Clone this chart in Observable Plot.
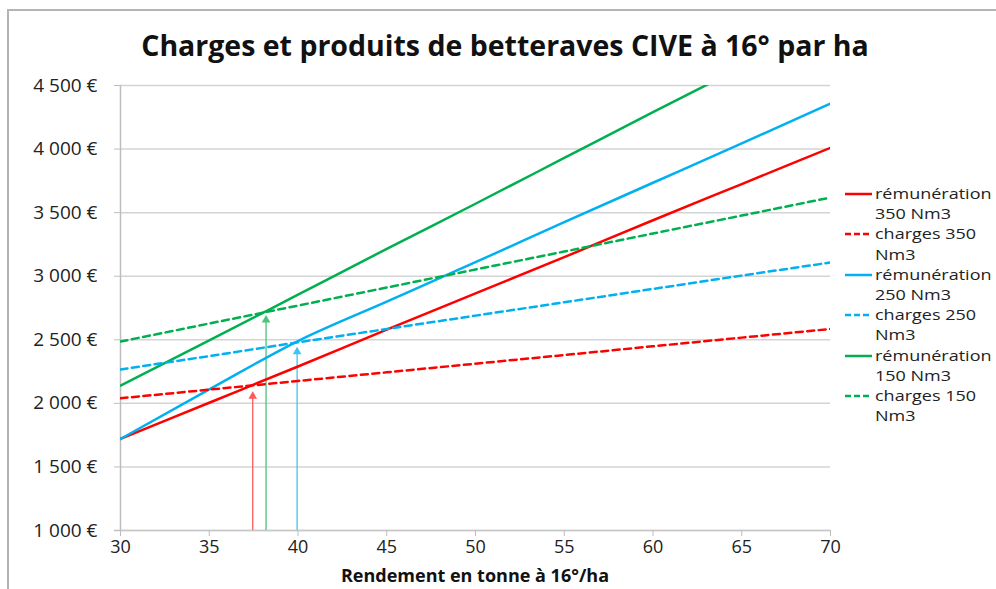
<!DOCTYPE html>
<html>
<head>
<meta charset="utf-8">
<script src="https://cdn.jsdelivr.net/npm/d3@7"></script>
<script src="https://cdn.jsdelivr.net/npm/@observablehq/plot@0.6"></script>
<style>
  html, body { margin: 0; padding: 0; background: #fff; }
  #wrap { position: relative; width: 996px; height: 589px; overflow: hidden; font-family: "Open Sans", sans-serif; color: #222; }
  #frame { position: absolute; left: 7px; top: 9px; width: 1000px; height: 600px; border-top: 2px solid #b4b4b4; border-left: 2px solid #b4b4b4; }
  #title { position: absolute; left: 0; top: 26px; width: 1010px; text-align: center; font-size: 28.5px; font-weight: 700; line-height: 38px; color: #111; }
  #xtitle { position: absolute; left: 120px; width: 710px; top: 563px; text-align: center; font-size: 18px; font-weight: 700; line-height: 25px; color: #111; }
  #legend { position: absolute; left: 845px; top: 183px; font-size: 15px; line-height: 20.2px; color: #222; }
  .item { display: flex; align-items: flex-start; }
  .item svg { flex: none; margin-top: 9px; }
  .item .lab { margin-left: 3px; white-space: nowrap; transform: scaleX(1.2); transform-origin: 0 50%; }
  #chart { position: absolute; left: 0; top: 0; }
</style>
</head>
<body>
<div id="wrap">
  <div id="frame"></div>
  <div id="chart"></div>
  <div id="title">Charges et produits de betteraves CIVE à 16° par ha</div>
  <div id="xtitle">Rendement en tonne à 16°/ha</div>
  <div id="legend"></div>
</div>
<script>
// ---- data ----
const rendement = [30, 35, 40, 45, 50, 55, 60, 65, 70];
const remuneration350 = [1720, 2005, 2290, 2580, 2865, 3150, 3440, 3725, 4010];
const charges350      = [2040, 2108, 2176, 2244, 2312, 2380, 2449, 2517, 2585];
const remuneration250 = [1720, 2110, 2490, 2800, 3110, 3425, 3735, 4045, 4358];
const charges250      = [2266, 2372, 2480, 2585, 2690, 2795, 2900, 3005, 3108];
const remuneration150 = [2140, 2495, 2855, 3215, 3570, 3930, 4290, 4645, 5005];
const charges150      = [2486, 2628, 2769, 2911, 3053, 3194, 3336, 3477, 3619];

const seriesNames = ["rémunération 350 Nm3", "charges 350 Nm3", "rémunération 250 Nm3", "charges 250 Nm3", "rémunération 150 Nm3", "charges 150 Nm3"];
const seriesLines = [["rémunération", "350 Nm3"], ["charges 350", "Nm3"], ["rémunération", "250 Nm3"], ["charges 250", "Nm3"], ["rémunération", "150 Nm3"], ["charges 150", "Nm3"]];
const seriesValues = [remuneration350, charges350, remuneration250, charges250, remuneration150, charges150];

// break-even arrows (rendement, value at tip)
const arrowRendement = [37.45, 38.2, 39.95];
const arrowValue = [2080, 2680, 2430];

const xTicks = [30, 35, 40, 45, 50, 55, 60, 65, 70];
const yTicks = [1000, 1500, 2000, 2500, 3000, 3500, 4000, 4500];

// ---- styles ----
const seriesColors = ["#ff0000", "#ff0000", "#00b0f0", "#00b0f0", "#00b050", "#00b050"];
const seriesDashed = [false, true, false, true, false, true];
const arrowColors = ["#ff5a5a", "#4cc27a", "#40c3f2"];

const rows = [];
seriesNames.forEach((name, i) => {
  rendement.forEach((x, j) => rows.push({x, y: seriesValues[i][j], s: name, dashed: seriesDashed[i]}));
});
const arrows = arrowRendement.map((x, i) => ({x, y: arrowValue[i], c: arrowColors[i]}));

const fmt = d => d3.format(",")(d).replace(/,/g, " ") + " €";

const chart = Plot.plot({
  width: 996,
  height: 589,
  marginLeft: 120,
  marginRight: 166,
  marginTop: 85,
  marginBottom: 59,
  style: {fontFamily: "Open Sans, sans-serif", fontSize: "17px", color: "#222", background: "transparent"},
  x: {domain: [30, 70]},
  y: {domain: [1000, 4500]},
  color: {domain: seriesNames, range: seriesColors},
  marks: [
    Plot.gridY(yTicks, {stroke: "#d4d4d4", strokeOpacity: 1, strokeWidth: 1.5}),
    Plot.ruleX([30], {stroke: "#bdbdbd", strokeWidth: 1.5}),
    Plot.ruleY([1000], {stroke: "#c8c8c8", strokeWidth: 1.5, insetLeft: -6}),
    Plot.axisY(yTicks, {tickFormat: fmt, tickSize: 6, tickPadding: 17, stroke: "#bdbdbd", fill: "#222", fontSize: 19, label: null}),
    Plot.axisX(xTicks, {tickSize: 6, tickPadding: 4, stroke: "#bdbdbd", fill: "#222", fontSize: 18, label: null}),
    Plot.ruleX(arrows, {x: "x", y1: 1000, y2: "y", stroke: "c", strokeWidth: 1.3}),
    Plot.dot(arrows, {x: "x", y: "y", fill: "c", symbol: "triangle", r: 3.2, dy: 3}),
    Plot.line(rows.filter(d => !d.dashed), {x: "x", y: "y", z: "s", stroke: "s", strokeWidth: 2.5, curve: "monotone-x", clip: true}),
    Plot.line(rows.filter(d => d.dashed), {x: "x", y: "y", z: "s", stroke: "s", strokeWidth: 2.5, strokeDasharray: "7,4.5", clip: true})
  ]
});
document.getElementById("chart").appendChild(chart);

// legend
const legend = document.getElementById("legend");
seriesNames.forEach((name, i) => {
  const item = document.createElement("div");
  item.className = "item";
  const dash = seriesDashed[i] ? ' stroke-dasharray="6,3"' : '';
  item.innerHTML = `<svg width="27" height="4"><line x1="0" x2="27" y1="2" y2="2" stroke="${seriesColors[i]}" stroke-width="2.5"${dash}/></svg>` +
    `<div class="lab">${seriesLines[i][0]}<br>${seriesLines[i][1]}</div>`;
  legend.appendChild(item);
});
</script>
</body>
</html>
